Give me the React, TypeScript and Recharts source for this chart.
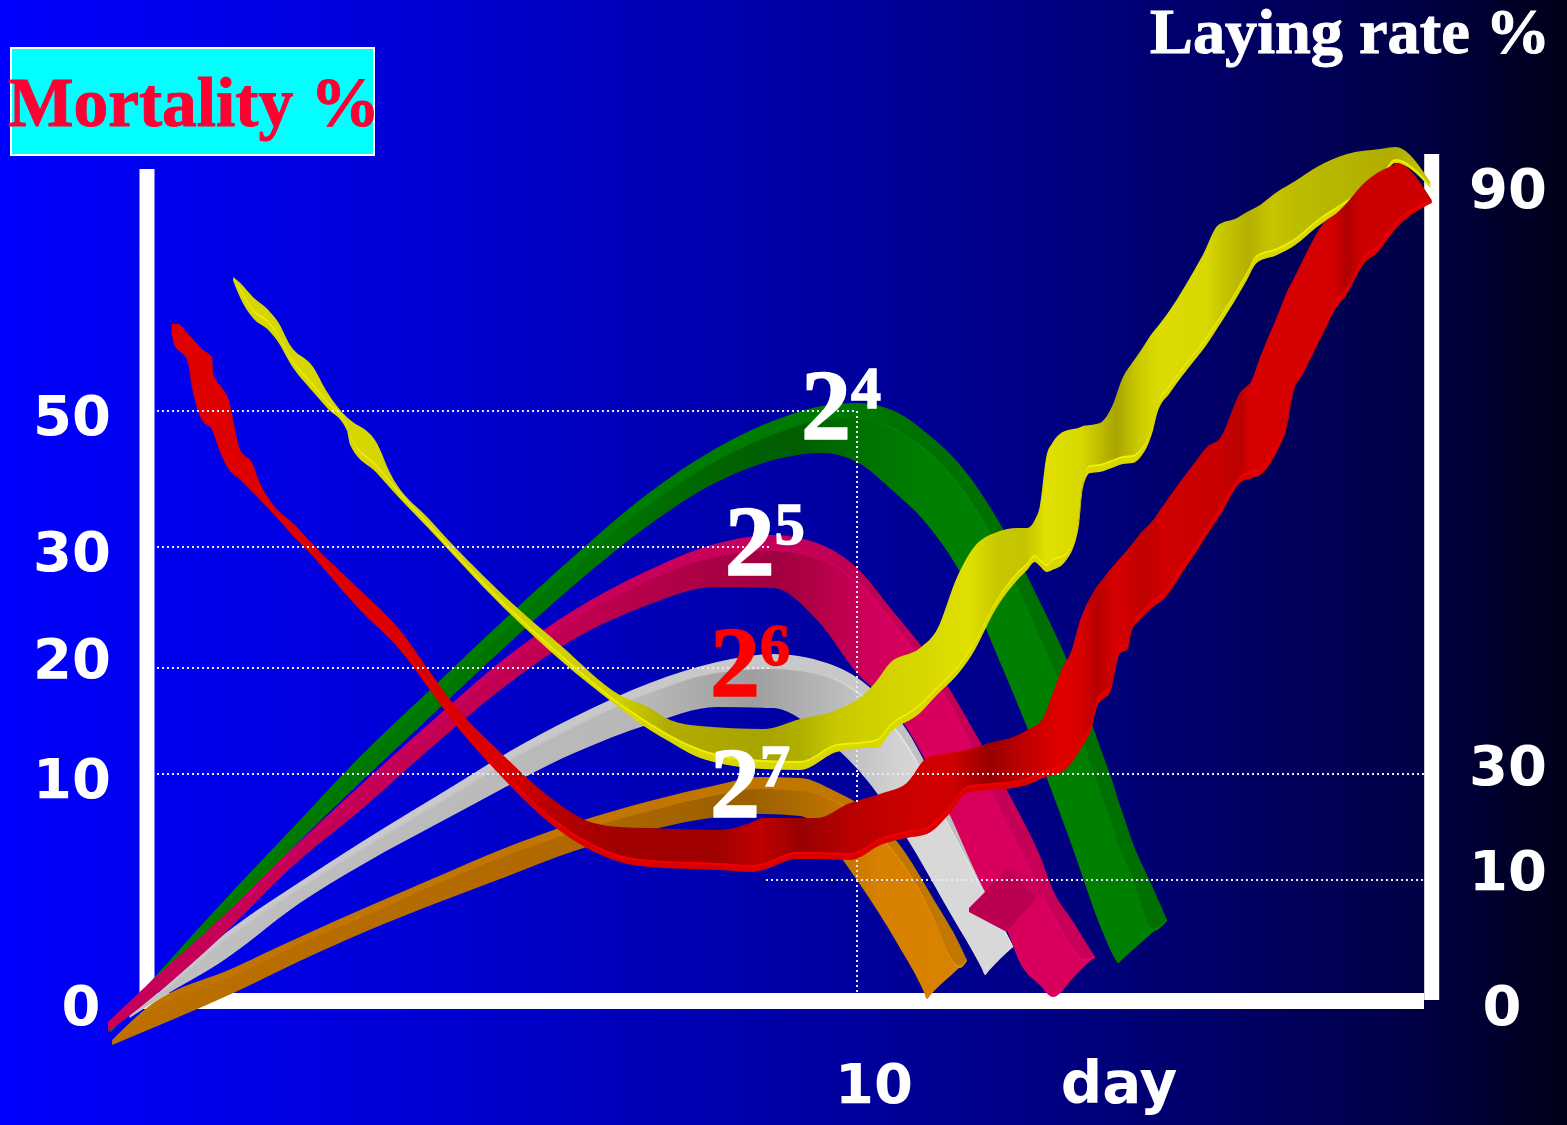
import { Area, ComposedChart, ReferenceDot, ReferenceLine, XAxis, YAxis } from 'recharts';

const WIDTH = 1567;
const HEIGHT = 1125;
const SANS = "'DejaVu Sans', Verdana, sans-serif";
const SERIF = "'Liberation Serif', 'Times New Roman', serif";

// Each row: day, upper edge, ridge, lower edge (ribbon height on the chart's level scale)
const greenRows = [
  [-0.67, -2.6, -2.9, -3.3], [-0.11, 1.7, 1.3, 0.8], [0.9, 9.5, 8.8, 7.5], [1.91, 17, 16.2, 15],
  [2.91, 24.4, 23.5, 21.8], [3.93, 31.2, 30.2, 28.5], [4.94, 37.9, 36.8, 35.1], [5.96, 44.4, 43.4, 41.5],
  [6.97, 50.4, 49.3, 47.2], [7.97, 55.1, 53.9, 51.7], [8.99, 58.4, 57.1, 54.3], [9.5, 59.4, 58.1, 54.7],
  [10, 59.7, 58.2, 53.8], [10.5, 59, 57.2, 51], [11.01, 56.6, 54.8, 47.5], [11.51, 53.2, 51, 42.3],
  [12.03, 47.8, 45, 34], [12.53, 41, 37.5, 25.5], [13.03, 33.5, 29.5, 16.2], [13.54, 24, 19.5, 6.3],
  [13.68, 21.2, 16.7, 4.2], [13.73, 20, 15.5, 3.7], [13.78, 19, 14.6, 4], [13.94, 15.7, 12, 5],
  [14.23, 11.2, 7, 6.8], [14.43, 8, 8, 8],
];

const whiteRows = [
  [-0.39, -1.5, -1.6, -1.8], [-0.11, 0, -0.2, -0.5], [1, 6.8, 6.2, 4.2], [2.04, 11.8, 11.2, 9.7],
  [2.9, 15.7, 15, 13.4], [4.37, 22, 21.2, 19], [4.9, 24.3, 23.5, 21], [5.96, 28.3, 27.4, 24.7],
  [7.04, 31.7, 30.8, 27.6], [8, 33.8, 32.8, 29.3], [8.8, 34.6, 33.2, 29.2], [9.57, 33.7, 32.4, 26],
  [10.14, 31.5, 30, 22], [10.71, 27, 25.5, 16.2], [11.33, 18.5, 17.2, 8.7], [11.78, 11.7, 11.2, 3.2],
  [11.83, 11, 10.5, 2.5], [11.88, 10.3, 9.9, 2.9], [12.23, 5.3, 5.3, 5.3],
];

const magentaRows = [
  [-0.7, -2.2, -2.7, -3.2], [-0.11, 1.7, 1.2, 0], [0.9, 8.1, 7.5, 6.2], [1.91, 15, 14.4, 13.2],
  [2.91, 21.5, 20.8, 19], [3.93, 27.9, 27.1, 25.3], [4.94, 34, 33.2, 31.2], [5.96, 39, 38.2, 36.1],
  [6.97, 42.8, 41.9, 39.4], [7.97, 45.6, 44.4, 41.3], [8.8, 46.5, 45, 41.2], [9.43, 45.7, 44.2, 38],
  [10, 43.2, 41.8, 32.7], [10.5, 39, 37.8, 29.3], [11.01, 34.5, 33, 23.5], [11.33, 31, 29.5, 18.5],
  [11.8, 25.3, 23, 11.2], [12.14, 21, 17.5, 7], [12.33, 18.5, 15, 3.7], [12.61, 14.5, 11, 1.5],
  [12.8, 11, 8.5, 0.3], [13.1, 7.7, 5, 2.3], [13.24, 6.1, 4, 3.3], [13.4, 4.3, 4.3, 4.3],
];

// The small folded-over piece of the magenta ribbon, with its raised back edge
const foldRows = [
  [11.6, 9.2, 8.8], [12.14, 13, 6.8], [12.57, 10.3, 10.3],
];
const foldEdgeRows = [
  [12.11, 13.2, 12.7], [12.5, 12.2, 10.8], [12.68, 11, 10.2],
];

const orangeRows = [
  [-0.64, -4, -4.2, -4.5], [-0.13, -0.7, -1.2, -3], [1.09, 3.2, 2.5, 0.7], [2.04, 6.3, 5.7, 3.9],
  [3, 9.3, 8.6, 6.9], [3.96, 12.2, 11.6, 9.6], [4.9, 15, 14.3, 12.1], [5.96, 17.7, 16.9, 14.9],
  [7.04, 19.9, 19, 17], [8, 21.5, 20.6, 18.3], [8.61, 22.3, 21.2, 18.6], [9.19, 22.2, 21, 18.4],
  [9.71, 20.8, 19.8, 14.8], [10, 19.7, 18.5, 12], [10.59, 15.7, 14.2, 5.5], [10.95, 11.8, 10.2, 0.9],
  [11, 11.2, 9.5, 0.1], [11.05, 10.6, 8.8, 0.5], [11.47, 5.5, 3.3, 3.3], [11.57, 4, 4, 4],
];

const yellowRows = [
  [1.09, 72.3, 72.1, 71.9], [1.19, 71.7, 71, 70.2], [1.37, 70.3, 69, 68.2], [1.59, 69, 67.8, 67],
  [1.73, 67.8, 66.5, 65.8], [1.9, 65.5, 64.3, 63.7], [2.23, 63.3, 61.5, 60.8], [2.43, 60.8, 59.8, 59.2],
  [2.71, 58.3, 57.5, 57], [2.76, 58, 56.4, 55.5], [3.14, 55.7, 53.4, 52.7], [3.33, 52.7, 51.8, 51.2],
  [3.9, 48, 47.4, 47], [4.9, 40.8, 40, 39.6], [5.76, 35.5, 34.5, 34], [6.61, 30.5, 29.6, 29.2],
  [7.04, 29.2, 27.6, 27], [7.33, 28, 26.4, 25.8], [7.76, 27.4, 25, 24.2], [8.66, 27.1, 23.9, 23.1],
  [9.19, 28.1, 23.8, 23], [9.71, 29, 25.5, 24.8], [10.14, 30.8, 25.8, 25.2], [10.29, 32, 26, 25.2],
  [10.47, 33.7, 27.4, 26.7], [10.9, 35.2, 29.5, 28.7], [11.14, 37, 31.2, 30.5], [11.43, 42.3, 33.2, 32.5],
  [11.64, 45, 35.2, 34.5], [12, 46.8, 40, 39.3], [12.29, 47.2, 42.7, 42], [12.43, 47.2, 43.6, 43],
  [12.54, 48, 44.4, 43.8], [12.61, 49.3, 44, 43.4], [12.71, 54.5, 43.5, 42.8], [12.79, 55.7, 44, 43],
  [12.97, 56.9, 44.5, 43.8], [13.16, 57.2, 47.7, 47], [13.23, 57.4, 52, 51.3], [13.33, 57.5, 53.4, 52.7],
  [13.47, 57.7, 53.5, 52.8], [13.64, 59.3, 53.9, 53.2], [13.8, 62.3, 54.3, 53.6], [13.94, 63.8, 54.4, 53.7],
  [14.04, 64.8, 54.9, 54.2], [14.23, 66.8, 57.7, 57], [14.29, 67.3, 59.4, 58.7], [14.47, 69, 61.4, 60.7],
  [14.86, 73.5, 65, 64.3], [14.94, 74.5, 65.7, 65], [15.16, 77.5, 68, 67.3], [15.43, 78.2, 71, 70.3],
  [15.57, 78.8, 72.7, 72], [15.71, 79.3, 74.4, 73.7], [16, 80.8, 75.1, 74.5], [16.26, 81.9, 76.1, 75.5],
  [16.57, 83.3, 77.9, 77.3], [17, 84.6, 79.9, 79.3], [17.47, 85.1, 82.2, 81.7], [17.69, 85.3, 84, 83.7],
  [18.19, 81.8, 81.4, 81.2],
];

const redRows = [
  [0.21, 67.6, 67, 66.5], [0.26, 67.6, 66, 65.3], [0.3, 67.6, 65.7, 65], [0.43, 66.7, 64.6, 64],
  [0.5, 66.2, 61.8, 61.2], [0.64, 65.1, 58.6, 58], [0.79, 64.2, 57.6, 57], [0.8, 62.7, 57.4, 56.8],
  [0.93, 61.2, 54.9, 54.3], [1.01, 60.3, 53.8, 53.2], [1.19, 55, 52.6, 52], [1.36, 53.7, 51.4, 50.8],
  [1.47, 51.7, 50.6, 50], [1.61, 50, 49.4, 49], [2, 47.3, 46.4, 46], [2.14, 46.2, 45.4, 45],
  [2.9, 41, 39.4, 39], [3.47, 37, 35.4, 35], [3.9, 32.8, 31.4, 31], [4.19, 30, 28.6, 28.2],
  [4.9, 24.8, 23, 22.5], [5.61, 20.3, 18.3, 17.7], [6.19, 17.8, 15.6, 15], [6.61, 17.3, 14.4, 13.8],
  [7.04, 17.2, 13.9, 13.3], [8.04, 17, 13.6, 13], [8.51, 17.8, 13.4, 12.8], [8.66, 18.2, 13.6, 13],
  [9.14, 18.2, 14.7, 14.1], [9.43, 18.2, 14.7, 14.1], [9.9, 19.7, 14.6, 14], [10.37, 20.7, 16.2, 15.6],
  [10.71, 21.7, 16.8, 16.2], [11, 24.2, 17.2, 16.6], [11.33, 24.7, 19.3, 18.7], [11.57, 25, 21.3, 20.7],
  [11.94, 25.8, 21.6, 21], [12.23, 26.3, 21.8, 21.2], [12.43, 27, 22.1, 21.5], [12.66, 28.2, 22.8, 22.2],
  [12.76, 30, 23, 22.4], [12.97, 33.7, 23.6, 23], [13.04, 34.5, 24.1, 23.5], [13.19, 38, 25.6, 25],
  [13.29, 39.7, 26.8, 26.2], [13.33, 40.2, 27.3, 26.7], [13.44, 41.5, 30.1, 29.5], [13.5, 42, 30.6, 30],
  [13.61, 43, 31.3, 30.7], [13.76, 44.2, 35.3, 34.7], [13.86, 45, 35.6, 35], [13.93, 45.6, 37.6, 37],
  [14.04, 46.6, 38.6, 38], [14.23, 48, 39.9, 39.3], [14.37, 49.4, 40.6, 40], [14.71, 52.7, 44, 43.4],
  [14.8, 53.5, 44.9, 44.3], [15, 55.3, 47.1, 46.5], [15.19, 56.2, 49.1, 48.5], [15.47, 60.7, 52.3, 51.7],
  [15.64, 62, 52.8, 52.2], [15.76, 64.3, 53.1, 52.5], [16.01, 68.5, 55.6, 55], [16.14, 70.8, 57.9, 57.3],
  [16.23, 72, 61.3, 60.7], [16.37, 74, 63.2, 62.6], [16.71, 78, 68, 67.4], [16.8, 78.4, 69.3, 68.7],
  [16.9, 79, 70.3, 69.7], [16.97, 79.5, 70.9, 70.3], [17.26, 81.8, 74.4, 73.8], [17.43, 82.7, 75.3, 74.7],
  [17.66, 83.5, 77.4, 76.8], [17.71, 83.7, 77.8, 77.2], [18.21, 80, 79.8, 79.7],
];

// Shading along each ribbon: [day, colour]
const greenFaceShade = [[-0.67, '#007a00'], [6.5, '#007400'], [8.5, '#006000'], [9.2, '#005e00'], [10, '#007000'], [11, '#008000'], [14.43, '#008000']];
const greenRimShade = [[-0.67, '#007c00'], [8, '#007c00'], [10, '#007800'], [11, '#007000'], [14.43, '#007000']];
const greenRidgeShade = [[-0.67, '#007c00'], [10, '#007800'], [11, '#008800'], [14.43, '#008800']];
const whiteFaceShade = [[-0.39, '#c0c0c0'], [7, '#b8b8b8'], [8.5, '#9e9e9e'], [9.6, '#b8b8b8'], [10.5, '#d0d0d0'], [11, '#d8d8d8'], [12.23, '#d8d8d8']];
const whiteRimShade = [[-0.39, '#c8c8d0'], [10, '#c8c8c8'], [11, '#c0c0c0'], [12.23, '#c0c0c0']];
const whiteRidgeShade = [[-0.39, '#c4c4c8'], [9.5, '#c8c8c8'], [10.5, '#eeeeee'], [12.23, '#eeeeee']];
const magentaFaceShade = [[-0.7, '#c80058'], [6, '#c00050'], [8.8, '#a00040'], [9.5, '#b40048'], [10.2, '#d0005c'], [11, '#d8005c'], [13.4, '#d8005c']];
const magentaRimShade = [[-0.7, '#c8005c'], [8, '#c8005c'], [10, '#c00054'], [13.4, '#c80058']];
const magentaRidgeShade = [[-0.7, '#c8005c'], [9.5, '#c8005c'], [10.5, '#e8006c'], [13.4, '#e8006c']];
const orangeFaceShade = [[-0.64, '#bc7000'], [6, '#b06800'], [8.5, '#9a6000'], [9.5, '#b87000'], [10.3, '#d88000'], [11.57, '#d88400']];
const orangeRimShade = [[-0.64, '#c07400'], [11.57, '#c07800']];
const orangeRidgeShade = [[-0.64, '#c07400'], [9.5, '#c07800'], [10.3, '#e89000'], [11.57, '#e89000']];
const yellowFaceShade = [
  [1.09, '#d8d800'], [6.6, '#d0d000'], [7.3, '#b0ac00'], [8.7, '#a8a400'], [9.2, '#b0b000'], [9.7, '#c8c800'],
  [10.2, '#d0d000'], [11, '#d8d800'], [11.6, '#e0e000'], [12, '#c8c800'], [12.4, '#c4c400'], [12.7, '#e0e000'],
  [13.2, '#d8d800'], [13.7, '#a8a400'], [14, '#c8c800'], [14.3, '#dcdc00'], [15, '#d8d800'], [15.2, '#c8c800'],
  [15.6, '#b4b000'], [15.9, '#c8c400'], [16.3, '#bcbc00'], [17.7, '#b0ac00'], [18.19, '#c8c800'],
];
const redFaceShade = [
  [0.21, '#e00000'], [5, '#d80000'], [5.6, '#b80000'], [6.6, '#a00000'], [8, '#a00000'], [8.6, '#c00000'],
  [9.2, '#980000'], [9.9, '#b80000'], [11, '#d00000'], [11.33, '#d00000'], [11.9, '#980000'], [12.4, '#c00000'],
  [12.9, '#e00000'], [13.2, '#d80000'], [13.44, '#b80000'], [13.7, '#d80000'], [14.1, '#c00000'], [14.4, '#d00000'],
  [15.2, '#c80000'], [15.5, '#bb0000'], [15.6, '#d80000'], [16.8, '#d40000'], [17, '#b00000'], [17.2, '#cc0000'],
  [18.21, '#cc0000'],
];

// Left and right scale labels sit at their own levels, close to the dotted guides
const mortalityTickLevels = [-0.7, 22, 34, 44.7, 58.3];
const mortalityTickLabels = ['0', '10', '20', '30', '50'];
const layingTickLevels = [-0.7, 12.8, 23.3, 81];
const layingTickLabels = ['0', '10', '30', '90'];
const dayTicks = [10, 13.5];
const dayTickLabels = ['10', 'day'];

// [level, from day, to day]
const horizontalGuides = [
  [58.9, 0, 10], [45.3, 0, 8.77], [33.2, 0, 8.77], [22.6, 0, 18.1], [12, 8.7, 18.1],
];
// Day-10 guide, broken where the laying-rate ribbons pass in front of it: [from level, to level]
const dayGuideSpans = [[58.9, 30.3], [25, 19.7], [14, 0.5]];

// Exponent labels: [base label day, level, exponent, colour]
const powerLabels = [
  [9.2, 56.2, '4', '#ffffff'],
  [8.11, 42.6, '5', '#ffffff'],
  [7.9, 30.5, '6', '#ff0000'],
  [7.9, 18.4, '7', '#ffffff'],
];

const toRecords = (rows: number[][]) =>
  rows.map(([day, top, ridge, bottom]) => ({ day, top, ridge, bottom }));

const ShadeGradient = ({ id, stops }: { id: string; stops: any[][] }) => {
  const first = stops[0][0];
  const last = stops[stops.length - 1][0];
  return (
    <linearGradient id={id} x1="0" y1="0" x2="1" y2="0">
      {stops.map(([day, color]) => (
        <stop key={day} offset={(day - first) / (last - first)} stopColor={color} />
      ))}
    </linearGradient>
  );
};

// One ribbon is three stacked bands: above the ridge, below the ridge, and the thin ridge highlight
function ribbon(name: string, rows: number[][], axis: string, upper: string, lower: string, ridgeColor: string) {
  const data = toRecords(rows);
  const common = {
    data,
    xAxisId: 'day',
    yAxisId: axis,
    type: 'monotone' as const,
    stroke: 'none',
    dot: false,
    activeDot: false,
    isAnimationActive: false,
  };
  return [
    <Area key={`${name}-upper`} {...common} dataKey={(r: any) => [r.ridge, r.top]} fill={upper} fillOpacity={1} />,
    <Area key={`${name}-lower`} {...common} dataKey={(r: any) => [r.bottom, r.ridge]} fill={lower} fillOpacity={1} />,
    <Area key={`${name}-ridge`} {...common} dataKey={(r: any) => [r.ridge - 0.1, r.ridge + 0.1]} fill={ridgeColor} fillOpacity={1} />,
  ];
}

const tickText = { textAnchor: 'middle', fill: '#ffffff', fontFamily: SANS, fontWeight: 700, fontSize: 56 } as const;

const MortalityTick = ({ y, payload }: any) => {
  const label = mortalityTickLabels[mortalityTickLevels.indexOf(payload.value)];
  return (
    <text x={label === '0' ? 81 : 72} y={y} dy={18} {...tickText}>
      {label}
    </text>
  );
};

const LayingTick = ({ y, payload }: any) => {
  const label = layingTickLabels[layingTickLevels.indexOf(payload.value)];
  return (
    <text x={label === '0' ? 1502 : 1508} y={y} dy={18} {...tickText}>
      {label}
    </text>
  );
};

const DayTick = ({ x, payload }: any) => {
  const label = dayTickLabels[dayTicks.indexOf(payload.value)];
  return (
    <text x={x + 17} y={1103} {...tickText} fontSize={label === 'day' ? 58 : 56}>
      {label}
    </text>
  );
};

const PowerLabel = ({ cx, cy, exponent, color }: any) => (
  <text x={cx} y={cy} fill={color} stroke={color} strokeWidth={1.5} fontFamily={SERIF} fontWeight={700} fontSize={100}>
    2
    <tspan dy={-30} fontSize={60}>{exponent}</tspan>
  </text>
);

const guideStyle = { stroke: '#e8e8ff', strokeWidth: 2, strokeDasharray: '2 3' };

export default function App() {
  return (
    <div
      style={{
        position: 'absolute',
        left: 0,
        top: 0,
        width: WIDTH,
        height: HEIGHT,
        overflow: 'hidden',
        background: 'linear-gradient(90deg, #0000ff 0%, #0000d8 25%, #000088 65%, #000048 90%, #000018 100%)',
      }}
    >
      <ComposedChart width={WIDTH} height={HEIGHT} margin={{ top: 0, right: 0, bottom: 0, left: 0 }}>
        <defs>
          <ShadeGradient id="greenFace" stops={greenFaceShade} />
          <ShadeGradient id="greenRim" stops={greenRimShade} />
          <ShadeGradient id="greenRidge" stops={greenRidgeShade} />
          <ShadeGradient id="whiteFace" stops={whiteFaceShade} />
          <ShadeGradient id="whiteRim" stops={whiteRimShade} />
          <ShadeGradient id="whiteRidge" stops={whiteRidgeShade} />
          <ShadeGradient id="magentaFace" stops={magentaFaceShade} />
          <ShadeGradient id="magentaRim" stops={magentaRimShade} />
          <ShadeGradient id="magentaRidge" stops={magentaRidgeShade} />
          <ShadeGradient id="orangeFace" stops={orangeFaceShade} />
          <ShadeGradient id="orangeRim" stops={orangeRimShade} />
          <ShadeGradient id="orangeRidge" stops={orangeRidgeShade} />
          <ShadeGradient id="yellowFace" stops={yellowFaceShade} />
          <ShadeGradient id="redFace" stops={redFaceShade} />
        </defs>

        <XAxis
          xAxisId="day"
          type="number"
          dataKey="day"
          domain={[-2.243, 20.143]}
          ticks={dayTicks}
          interval={0}
          height={1}
          mirror
          axisLine={false}
          tickLine={false}
          tick={<DayTick />}
          allowDataOverflow
        />
        <YAxis
          yAxisId="mortality"
          type="number"
          domain={[-12.5, 100]}
          ticks={mortalityTickLevels}
          interval={0}
          width={1}
          mirror
          axisLine={false}
          tickLine={false}
          tick={<MortalityTick />}
          allowDataOverflow
        />
        <YAxis
          yAxisId="laying"
          orientation="right"
          type="number"
          domain={[-12.5, 100]}
          ticks={layingTickLevels}
          interval={0}
          width={1}
          mirror
          axisLine={false}
          tickLine={false}
          tick={<LayingTick />}
          allowDataOverflow
        />

        {/* Axis frame, kept behind the ribbons */}
        <ReferenceLine zIndex={-1} xAxisId="day" yAxisId="mortality" segment={[{ x: -0.143, y: 83.1 }, { x: -0.143, y: -0.9 }]} stroke="#ffffff" strokeWidth={15} />
        <ReferenceLine zIndex={-1} xAxisId="day" yAxisId="mortality" segment={[{ x: -0.143, y: -0.1 }, { x: 18.1, y: -0.1 }]} stroke="#ffffff" strokeWidth={16} />
        <ReferenceLine zIndex={-1} xAxisId="day" yAxisId="laying" segment={[{ x: 18.21, y: 84.6 }, { x: 18.21, y: 0 }]} stroke="#ffffff" strokeWidth={15} />

        {ribbon('green', greenRows, 'mortality', 'url(#greenRim)', 'url(#greenFace)', 'url(#greenRidge)')}
        {ribbon('white', whiteRows, 'mortality', 'url(#whiteRim)', 'url(#whiteFace)', 'url(#whiteRidge)')}
        {ribbon('magenta', magentaRows, 'mortality', 'url(#magentaRim)', 'url(#magentaFace)', 'url(#magentaRidge)')}
        <Area
          data={foldEdgeRows.map(([day, top, bottom]) => ({ day, top, bottom }))}
          xAxisId="day"
          yAxisId="mortality"
          type="linear"
          dataKey={(r: any) => [r.bottom, r.top]}
          stroke="none"
          fill="#c80058"
          fillOpacity={1}
          dot={false}
          activeDot={false}
          isAnimationActive={false}
        />
        <Area
          data={foldRows.map(([day, top, bottom]) => ({ day, top, bottom }))}
          xAxisId="day"
          yAxisId="mortality"
          type="linear"
          dataKey={(r: any) => [r.bottom, r.top]}
          stroke="none"
          fill="#bb0050"
          fillOpacity={1}
          dot={false}
          activeDot={false}
          isAnimationActive={false}
        />
        {ribbon('orange', orangeRows, 'mortality', 'url(#orangeRim)', 'url(#orangeFace)', 'url(#orangeRidge)')}
        {ribbon('yellow', yellowRows, 'laying', 'url(#yellowFace)', '#d8d800', '#f0f000')}
        {ribbon('red', redRows, 'laying', 'url(#redFace)', '#d80000', '#f00000')}

        {/* Dotted guides */}
        {horizontalGuides.map(([level, from, to]) => (
          <ReferenceLine key={level} xAxisId="day" yAxisId="mortality" segment={[{ x: from, y: level }, { x: to, y: level }]} {...guideStyle} />
        ))}
        {dayGuideSpans.map(([from, to]) => (
          <ReferenceLine key={from} xAxisId="day" yAxisId="mortality" segment={[{ x: 10, y: from }, { x: 10, y: to }]} {...guideStyle} />
        ))}

        {powerLabels.map(([day, level, exponent, color]: any) => (
          <ReferenceDot
            key={exponent}
            xAxisId="day"
            yAxisId="mortality"
            x={day}
            y={level}
            r={0}
            shape={(props: any) => <PowerLabel {...props} exponent={exponent} color={color} />}
          />
        ))}
      </ComposedChart>

      <div
        style={{
          position: 'absolute',
          left: 10,
          top: 47,
          width: 361,
          height: 105,
          background: '#00ffff',
          border: '2px solid #ffffff',
        }}
      />
      <div
        style={{
          position: 'absolute',
          left: 8,
          top: 64,
          fontFamily: SERIF,
          fontWeight: 700,
          fontSize: 69.4,
          lineHeight: '78px',
          color: '#ff0033',
          WebkitTextStroke: '1px #ff0033',
          whiteSpace: 'pre',
        }}
      >
        Mortality %
      </div>
      <div
        style={{
          position: 'absolute',
          left: 1150,
          top: 0,
          fontFamily: SERIF,
          fontWeight: 700,
          fontSize: 64.3,
          lineHeight: '64px',
          color: '#ffffff',
          WebkitTextStroke: '1px #ffffff',
          whiteSpace: 'pre',
        }}
      >
        Laying rate %
      </div>
    </div>
  );
}
